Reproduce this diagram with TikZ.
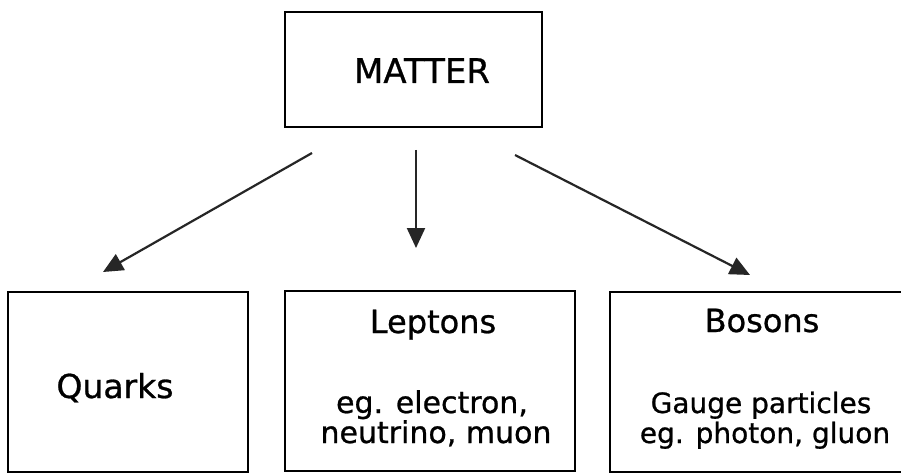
\documentclass[tikz,border=0pt]{standalone}
\usepackage{fontspec}
\setmainfont{DejaVu Sans}[FakeBold=0.8]
\usetikzlibrary{arrows.meta}
\begin{document}
\begin{tikzpicture}[x=1pt,y=-1pt,
  box/.style={draw=black, line width=2.4pt, rectangle, inner sep=0pt},
  lbl/.style={inner sep=0pt, anchor=base, text=black},
  arr/.style={draw=black!85, line width=2.2pt, -{Triangle[length=20pt,width=18pt]}}]
\useasboundingbox (0,0) rectangle (901,473);
\clip (0,0) rectangle (901,473);
\fill[white] (0,0) rectangle (901,473);
% boxes
\node[box, minimum width=257pt, minimum height=115pt] (matter) at (413.5,69.5) {};
\node[box, minimum width=240pt, minimum height=180pt] (quarks) at (128,382) {};
\node[box, minimum width=290pt, minimum height=180pt] (leptons) at (430,381) {};
\node[box, minimum width=300pt, minimum height=180pt] (bosons) at (760,382) {};
% texts
\node[lbl, font=\fontsize{34}{36}\selectfont] (tm) at (422,83) {MATTER};
\node[lbl, font=\fontsize{33}{35}\selectfont] (tq) at (115,398) {Quarks};
\node[lbl, font=\fontsize{32}{34}\selectfont] (tl) at (433,333) {Leptons};
\node[lbl, font=\fontsize{30}{32}\selectfont] (tl1) at (432,413) {eg. electron,};
\node[lbl, font=\fontsize{30}{32}\selectfont] (tl2) at (436,443) {neutrino, muon};
\node[lbl, font=\fontsize{32}{34}\selectfont] (tb) at (762,332) {Bosons};
\node[lbl, font=\fontsize{28}{30}\selectfont] (tb1) at (761,413) {Gauge particles};
\node[lbl, font=\fontsize{28}{30}\selectfont] (tb2) at (765,443) {eg. photon, gluon};
% arrow ends
\coordinate (sL) at (312,153);
\coordinate (eL) at (103,272);
\coordinate (sM) at (416,150);
\coordinate (eM) at (416,248);
\coordinate (sR) at (515,155);
\coordinate (eR) at (750,275);
\draw[arr] (sL) -- (eL);
\draw[arr] (sM) -- (eM);
\draw[arr] (sR) -- (eR);
\end{tikzpicture}
\end{document}
